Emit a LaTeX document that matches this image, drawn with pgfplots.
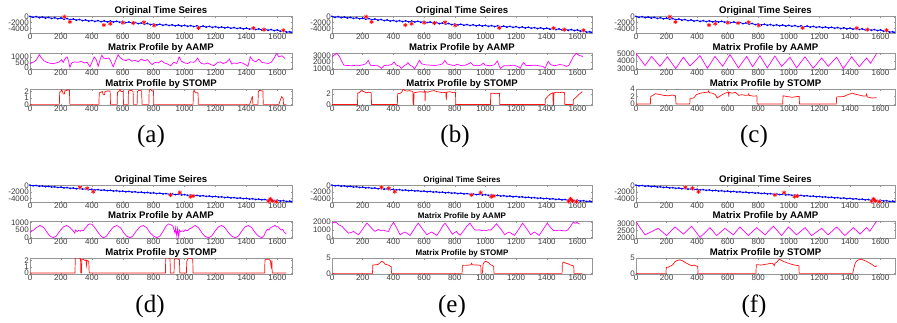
\documentclass[border=0pt]{standalone}
\usepackage{pgfplots}
\pgfplotsset{compat=1.18}
\usepackage{pgfplotstable}
\usepackage{fontspec}
\setmainfont{Liberation Sans}
\newfontfamily\seriffont{Liberation Serif}
\definecolor{axgray}{RGB}{150,150,150}
\definecolor{tickgray}{RGB}{60,60,60}
\definecolor{mag}{RGB}{255,0,255}
\definecolor{myred}{RGB}{255,20,20}
\definecolor{myblue}{RGB}{0,0,255}
\newcommand\tickfont{\fontsize{8}{8}\selectfont}
\newcommand\titlefont{\bfseries\fontsize{9.6}{10}\selectfont}
\newcommand\titlefonte{\bfseries\fontsize{8}{9}\selectfont}
\newcommand\labfont{\seriffont\fontsize{25}{25}\selectfont}

\pgfplotsset{
 every axis title/.style={at={(0.5,1)}, anchor=base, yshift=2.5pt, inner sep=0pt},
 mp/.style={scale only axis, anchor=north west, xmin=0, xmax=1695, xtick={0,200,...,1600},
  axis line style={axgray, line width=0.5pt}, tick style={axgray, line width=0.4pt},
  tick align=inside, major tick length=1.5pt,
  ticklabel style={font=\tickfont, text=tickgray},
  xticklabel style={inner sep=1pt},
  yticklabel style={inner sep=1pt},
  /pgf/number format/assume math mode=true,
  /pgf/number format/1000 sep={},
  scaled y ticks=false,
  title style={font=\titlefont},
 },
 tsl/.style={myblue, line width=0.8pt, mark=*, mark size=0.45pt},
 magl/.style={mag, line width=0.7pt},
 redl/.style={myred, line width=0.7pt},
}

\pgfplotstableread{
x y
0 150
20 -210
40 30
60 -330
80 -90
100 -450
120 -210
140 -570
160 -330
180 -690
200 -450
220 -830
240 -610
260 -990
280 -770
300 -1150
320 -930
340 -1310
360 -1090
380 -1470
400 -1250
420 -1585
440 -1320
460 -1655
480 -1390
500 -1725
520 -1460
540 -1795
560 -1530
580 -1865
600 -1600
620 -1985
640 -1770
660 -2155
680 -1940
700 -2325
720 -2110
740 -2495
760 -2280
780 -2665
800 -2450
820 -2795
840 -2540
860 -2885
880 -2630
900 -2975
920 -2720
940 -3065
960 -2810
980 -3155
1000 -2900
1020 -3245
1040 -2990
1060 -3335
1080 -3080
1100 -3425
1120 -3170
1140 -3515
1160 -3260
1180 -3605
1200 -3350
1220 -3700
1240 -3450
1260 -3800
1280 -3550
1300 -3900
1320 -3650
1340 -4000
1360 -3750
1380 -4100
1400 -3850
1420 -4210
1440 -3970
1460 -4330
1480 -4090
1500 -4450
1520 -4210
1540 -4570
1560 -4330
1580 -4690
1600 -4450
1620 -4906
1640 -4762
1660 -5218
1680 -5074
1690 -5300
}\tsTop

\pgfplotstableread{
x y
222 0
258 -1760
478 -2820
519 -2350
601 -2000
668 -2120
737 -1880
803 -2940
1090 -3760
1445 -3880
1514 -4350
1639 -4590
}\starTop

\pgfplotstableread{
x y
0 80
20 -145
40 -50
60 -275
80 -180
100 -405
120 -310
140 -535
160 -440
180 -665
200 -570
220 -795
240 -700
260 -925
280 -830
300 -1055
320 -960
340 -1185
360 -1090
380 -1315
400 -1220
420 -1435
440 -1330
460 -1545
480 -1440
500 -1655
520 -1550
540 -1765
560 -1660
580 -1875
600 -1770
620 -1985
640 -1880
660 -2095
680 -1990
700 -2205
720 -2100
740 -2315
760 -2210
780 -2425
800 -2320
820 -2535
840 -2430
860 -2645
880 -2540
900 -2755
920 -2650
940 -2865
960 -2760
980 -2975
1000 -2870
1020 -3085
1040 -2980
1060 -3195
1080 -3090
1100 -3305
1120 -3200
1140 -3415
1160 -3310
1180 -3525
1200 -3420
1220 -3640
1240 -3540
1260 -3760
1280 -3660
1300 -3880
1320 -3780
1340 -4000
1360 -3900
1380 -4120
1400 -4020
1420 -4240
1440 -4140
1460 -4360
1480 -4260
1500 -4480
1520 -4380
1540 -4600
1560 -4500
1580 -4720
1600 -4620
1620 -4847
1640 -4753
1660 -4980
1680 -4887
1690 -5000
}\tsBot

\pgfplotstableread{
x y
323 -615
370 -920
409 -1950
909 -2975
969 -2260
1038 -3490
1055 -3280
1542 -4950
1555 -4200
1568 -4820
1594 -5050
}\starBot

\begin{document}
\begin{tikzpicture}[x=1pt,y=1pt]
\path[use as bounding box] (0,0) rectangle (897,-322);

% ================= (a) =================
\begin{axis}[mp, at={(30pt,-16pt)}, width=262pt, height=17pt, ymin=-5500, ymax=250, ytick={-4000,-2000,0}, title={Original Time Seires}]
\addplot[tsl] table {\tsTop};
\addplot[only marks, mark=*, mark size=2pt, red!30, opacity=0.7] table {\starTop};
\addplot[only marks, mark=asterisk, mark size=2pt, red, line width=0.6pt] table {\starTop};
\end{axis}
\begin{axis}[mp, at={(30pt,-53pt)}, width=262pt, height=16pt, ymin=-100, ymax=1350, ytick={0,500,1000}, title={Matrix Profile by AAMP}]
\addplot[magl] coordinates {(0,380) (20,500) (40,700) (60,1200) (75,900) (90,650) (110,500) (130,420) (150,380) (170,450) (190,550) (205,750) (215,500) (230,900) (240,1000) (250,600) (258,50) (270,450) (290,550) (310,500) (330,600) (350,450) (370,500) (388,100) (400,500) (415,1000) (430,700) (441,150) (455,800) (465,1150) (475,900) (490,850) (510,900) (520,700) (538,100) (555,700) (570,1200) (585,900) (600,750) (620,650) (640,800) (660,600) (680,700) (700,550) (720,800) (740,650) (760,750) (775,500) (790,300) (810,500) (830,450) (850,650) (870,450) (890,350) (910,200) (930,500) (950,400) (965,1000) (980,600) (1000,450) (1020,400) (1040,550) (1060,500) (1075,700) (1085,900) (1095,600) (1110,400) (1130,350) (1150,450) (1170,300) (1190,200) (1210,450) (1230,550) (1250,400) (1270,500) (1290,800) (1305,350) (1320,450) (1340,400) (1360,500) (1380,400) (1400,250) (1410,150) (1425,1000) (1440,700) (1460,550) (1480,800) (1500,500) (1520,450) (1540,400) (1560,500) (1580,900) (1595,1320) (1610,1000) (1630,1100) (1650,850)};
\end{axis}
\begin{axis}[mp, at={(30pt,-89pt)}, width=262pt, height=16pt, ymin=-0.1, ymax=2.4, ytick={0,1,2}, title={Matrix Profile by STOMP}]
\addplot[redl] coordinates {(0,0) (190,0) (192,1.9) (200,2.0) (205,2.3) (212,1.9) (215,1.6) (222,1.6) (225,2.1) (240,2.2) (245,2.3) (255,2.2) (258,0)
(446,0) (448,1.8) (460,1.9) (468,2.0) (474,1.5) (482,1.5) (485,2.0) (500,2.1) (518,2.1) (521,0)
(564,0) (566,1.9) (575,2.0) (581,2.4) (590,2.0) (603,2.0) (605,0)
(635,0) (637,2.1) (655,2.2) (667,2.0) (669,0) (693,0) (695,2.0) (705,2.2) (722,2.1) (725,0) (769,0) (771,2.1) (776,2.4) (790,2.1) (799,2.0) (801,0)
(1055,0) (1057,1.9) (1062,2.2) (1070,1.8) (1087,1.8) (1089,0)
(1421,0) (1430,0.6) (1436,1.1) (1440,1.2) (1442,0)
(1475,0) (1477,2.0) (1485,2.2) (1500,2.1) (1507,2.1) (1509,0)
(1610,0) (1620,0.7) (1628,1.2) (1638,0.9) (1640,0) (1658,0)};
\end{axis}

% ================= (b) =================
\begin{axis}[mp, at={(332pt,-16pt)}, width=260pt, height=17pt, ymin=-5500, ymax=250, ytick={-4000,-2000,0}, title={Original Time Seires}]
\addplot[tsl] table {\tsTop};
\addplot[only marks, mark=*, mark size=2pt, red!30, opacity=0.7] table {\starTop};
\addplot[only marks, mark=asterisk, mark size=2pt, red, line width=0.6pt] table {\starTop};
\end{axis}
\begin{axis}[mp, at={(332pt,-53pt)}, width=260pt, height=16pt, ymin=900, ymax=3400, ytick={1000,2000,3000}, title={Matrix Profile by AAMP}]
\addplot[magl] coordinates {(0,2750) (15,3100) (32,3350) (50,2800) (65,2000) (78,1500) (100,1450) (130,1400) (160,1500) (180,1450) (200,1550) (220,1700) (237,2250) (250,1500) (270,1450) (300,1400) (323,1000) (340,1450) (370,1500) (390,1600) (405,2000) (420,1500) (440,1350) (452,1000) (470,1400) (485,1600) (495,1900) (510,1450) (525,1300) (538,900) (555,1600) (570,2250) (585,1700) (610,1550) (640,1500) (670,1450) (700,1550) (720,1700) (736,2250) (750,1700) (780,1500) (800,1450) (814,1650) (840,1450) (870,1500) (890,1700) (904,1900) (920,1500) (950,1400) (970,1500) (986,1800) (1000,1500) (1030,1400) (1060,1550) (1077,2150) (1090,1400) (1098,1000) (1120,1400) (1150,1400) (1184,1500) (1210,1300) (1227,1000) (1240,1600) (1249,1900) (1265,1450) (1300,1450) (1324,1500) (1350,1400) (1375,1300) (1389,1000) (1400,1600) (1410,2100) (1425,1600) (1450,1400) (1485,1600) (1510,1500) (1529,1300) (1545,1500) (1560,2200) (1575,2900) (1593,3350) (1610,3050) (1636,2850)};
\end{axis}
\begin{axis}[mp, at={(332pt,-89pt)}, width=260pt, height=16pt, ymin=-0.1, ymax=2.9, ytick={0,2}, title={Matrix Profile by STOMP}]
\addplot[redl] coordinates {(0,0) (166,0) (168,2.1) (180,2.3) (190,2.6) (200,2.5) (215,2.3) (225,2.2) (240,2.3) (255,2.2) (258,0)
(426,0) (428,2.0) (445,2.1) (455,2.3) (463,2.9) (475,2.6) (490,2.5) (505,2.6) (517,2.5) (527,2.4) (529,0) (533,0) (535,2.2) (555,2.3) (575,2.4) (595,2.3) (605,2.5) (607,0.6) (609,2.4) (625,2.3) (645,2.5) (665,2.6) (685,2.4) (705,2.3) (725,2.2) (742,2.3) (745,0.8) (748,2.3) (770,2.4) (790,2.2) (805,2.3) (807,0)
(1033,0) (1035,2.1) (1050,2.1) (1070,2.0) (1092,2.1) (1094,0)
(1389,0) (1391,1.0) (1400,1.3) (1410,1.6) (1425,2.0) (1440,2.2) (1442,0) (1445,0) (1447,2.2) (1465,2.3) (1480,2.2) (1500,2.3) (1516,2.2) (1518,0)
(1572,0) (1574,0.9) (1585,1.2) (1600,1.6) (1615,2.0) (1632,2.4)};
\end{axis}

% ================= (c) =================
\begin{axis}[mp, at={(636pt,-16pt)}, width=259pt, height=17pt, ymin=-5500, ymax=250, ytick={-4000,-2000,0}, title={Original Time Seires}]
\addplot[tsl] table {\tsTop};
\addplot[only marks, mark=*, mark size=2pt, red!30, opacity=0.7] table {\starTop};
\addplot[only marks, mark=asterisk, mark size=2pt, red, line width=0.6pt] table {\starTop};
\end{axis}
\begin{axis}[mp, at={(636pt,-53pt)}, width=259pt, height=16pt, ymin=2950, ymax=5050, ytick={3000,4000,5000}, title={Matrix Profile by AAMP}]
\addplot[magl] coordinates {(0,5000) (59,3400) (102,4600) (157,3300) (205,4550) (260,3000) (310,4500) (353,3350) (419,4700) (467,3050) (517,4600) (567,3300) (615,4850) (670,3100) (724,4600) (763,3250) (811,4700) (859,3100) (909,4650) (953,3300) (1008,4500) (1051,3100) (1106,4550) (1160,3050) (1215,4400) (1258,3300) (1313,4500) (1357,3000) (1411,4550) (1461,3250) (1509,4400) (1535,3700) (1575,5000)};
\end{axis}
\begin{axis}[mp, at={(636pt,-89pt)}, width=259pt, height=16pt, ymin=-0.25, ymax=4, ytick={0,2,4}, title={Matrix Profile by STOMP}]
\addplot[redl] coordinates {(0,0) (94,0) (96,2.0) (110,2.3) (127,2.75) (160,2.5) (181,2.3) (214,2.2) (236,2.4) (258,2.2) (262,0)
(352,0) (354,1.5) (378,1.6) (395,2.5) (422,2.9) (454,3.1) (472,3.2) (476,3.5) (480,3.0) (498,2.9) (520,2.5) (531,1.6) (542,1.9) (564,2.5) (585,2.9) (605,3.2) (607,2.0) (609,3.1) (629,2.9) (651,3.1) (673,2.3) (694,2.5) (716,2.3) (736,2.4) (738,2.7) (740,2.3) (771,2.1) (791,2.2) (793,0)
(960,0) (962,2.2) (989,2.0) (1022,1.8) (1054,2.0) (1068,2.0) (1070,0)
(1311,0) (1313,1.9) (1360,2.0) (1386,2.5) (1415,2.9) (1437,2.6) (1470,2.3) (1491,2.1) (1507,2.2) (1509,2.6) (1513,1.9) (1546,1.6) (1575,1.7)};
\end{axis}

% ================= (d) =================
\begin{axis}[mp, at={(30pt,-185pt)}, width=262pt, height=17pt, ymin=-5150, ymax=100, ytick={-4000,-2000,0}, title={Original Time Seires}]
\addplot[tsl] table {\tsBot};
\addplot[only marks, mark=*, mark size=2pt, red!30, opacity=0.7] table {\starBot};
\addplot[only marks, mark=asterisk, mark size=2pt, red, line width=0.6pt] table {\starBot};
\end{axis}
\begin{axis}[mp, at={(30pt,-221pt)}, width=262pt, height=17pt, ymin=-20, ymax=1090, ytick={0,500,1000}, title={Matrix Profile by AAMP}]
\addplot[magl] coordinates {(0,350) (20,480) (40,650) (65,800) (90,650) (110,350) (130,100) (151,0) (170,100) (190,400) (215,700) (237,800) (260,650) (281,420) (290,300) (295,500) (305,400) (315,480) (325,420) (335,500) (345,450) (355,600) (365,700) (375,850) (388,900) (400,880) (420,650) (440,350) (460,100) (475,0) (495,100) (515,400) (540,700) (561,800) (585,650) (605,350) (625,100) (647,0) (665,100) (685,400) (710,700) (733,800) (755,650) (775,350) (800,100) (820,0) (840,100) (860,400) (880,750) (895,900) (910,850) (925,750) (938,300) (942,650) (950,100) (955,600) (962,50) (967,500) (975,400) (985,450) (995,400) (1005,520) (1015,450) (1025,500) (1035,600) (1046,650) (1068,800) (1090,650) (1110,350) (1130,100) (1154,0) (1175,100) (1195,400) (1218,700) (1240,800) (1262,650) (1282,350) (1305,100) (1327,0) (1348,100) (1368,400) (1390,700) (1413,800) (1435,650) (1455,350) (1478,100) (1500,0) (1515,150) (1525,400) (1535,550) (1545,500) (1555,650) (1565,700) (1575,750) (1585,800) (1595,700) (1605,720) (1615,600) (1625,500) (1635,550) (1645,350) (1658,250)};
\end{axis}
\begin{axis}[mp, at={(30pt,-258pt)}, width=262pt, height=16pt, ymin=-0.15, ymax=2.4, ytick={0,1,2}, title={Matrix Profile by STOMP}]
\addplot[redl] coordinates {(0,0) (291,0) (293,2.4) (300,2.5) (315,2.4) (327,2.3) (329,0) (333,0) (335,2.2) (345,2.2) (355,2.0) (362,2.1) (366,1.2) (369,2.0) (380,1.9) (383,0)
(876,0) (878,2.3) (885,2.5) (895,2.4) (906,2.3) (908,0) (932,0) (934,2.2) (945,2.3) (960,2.2) (967,2.1) (969,0) (1012,0) (1014,1.8) (1020,2.2) (1030,2.4) (1045,2.3) (1053,2.2) (1055,0)
(1518,0) (1520,2.1) (1530,2.2) (1545,2.2) (1555,2.0) (1560,1.0) (1565,2.0) (1567,0) (1658,0)};
\end{axis}

% ================= (e) =================
\begin{axis}[mp, at={(332pt,-185pt)}, width=260pt, height=17pt, ymin=-5150, ymax=100, ytick={-4000,-2000,0}, title={Original Time Seires}, title style={font=\titlefonte}]
\addplot[tsl] table {\tsBot};
\addplot[only marks, mark=*, mark size=2pt, red!30, opacity=0.7] table {\starBot};
\addplot[only marks, mark=asterisk, mark size=2pt, red, line width=0.6pt] table {\starBot};
\end{axis}
\begin{axis}[mp, at={(332pt,-221pt)}, width=260pt, height=17pt, ymin=-80, ymax=2150, ytick={0,1000,2000}, title={Matrix Profile by AAMP}, title style={font=\titlefonte}]
\addplot[magl] coordinates {(0,1850) (12,1950) (22,2000) (35,1850) (43,1650) (65,1450) (85,1000) (108,560) (125,650) (141,780) (157,550) (173,350) (190,800) (210,1400) (228,1870) (250,1400) (270,950) (282,800) (295,950) (303,1050) (315,900) (330,950) (347,880) (360,800) (368,780) (385,1500) (401,1960) (420,1300) (444,350) (460,550) (477,700) (492,500) (509,260) (530,900) (548,1500) (563,1870) (590,1100) (618,350) (635,550) (650,700) (665,500) (683,260) (705,900) (722,1500) (737,1870) (760,1200) (785,400) (800,650) (812,780) (822,500) (835,280) (855,800) (880,1500) (900,1870) (915,1400) (930,1000) (945,950) (960,1000) (975,900) (990,950) (1005,900) (1020,1000) (1035,950) (1050,1300) (1073,1780) (1100,1100) (1126,350) (1140,550) (1155,700) (1170,500) (1190,260) (1215,1000) (1243,1870) (1270,1100) (1296,350) (1310,600) (1320,700) (1335,500) (1350,260) (1375,1000) (1403,1870) (1425,1300) (1445,900) (1460,880) (1480,950) (1500,900) (1520,850) (1535,950) (1550,1300) (1565,1800) (1575,2000) (1585,1850) (1595,1950) (1615,1750)};
\end{axis}
\begin{axis}[mp, at={(332pt,-258pt)}, width=260pt, height=16pt, ymin=-0.2, ymax=5, ytick={0,5}, title={Matrix Profile by STOMP}, title style={font=\titlefonte}]
\addplot[redl] coordinates {(0,0) (264,0) (266,2.7) (285,2.8) (300,2.9) (310,3.3) (322,3.9) (335,3.7) (345,3.0) (360,2.8) (372,2.6) (380,2.3) (386,2.2) (388,0)
(848,0) (850,2.6) (870,2.6) (890,2.7) (905,2.7) (910,3.3) (915,2.8) (935,2.7) (955,2.7) (970,2.6) (972,0) (980,0) (985,3.0) (995,3.8) (1005,3.9) (1020,3.5) (1035,2.8) (1048,2.5) (1054,2.3) (1056,0)
(1500,0) (1502,3.3) (1510,3.7) (1525,3.3) (1540,3.1) (1555,2.7) (1570,2.5) (1576,2.4) (1578,0) (1632,0)};
\end{axis}

% ================= (f) =================
\begin{axis}[mp, at={(636pt,-185pt)}, width=259pt, height=17pt, ymin=-5150, ymax=100, ytick={-4000,-2000,0}, title={Original Time Seires}]
\addplot[tsl] table {\tsBot};
\addplot[only marks, mark=*, mark size=2pt, red!30, opacity=0.7] table {\starBot};
\addplot[only marks, mark=asterisk, mark size=2pt, red, line width=0.6pt] table {\starBot};
\end{axis}
\begin{axis}[mp, at={(636pt,-221pt)}, width=259pt, height=17pt, ymin=1980, ymax=3160, ytick={2000,2500,3000}, title={Matrix Profile by AAMP}]
\addplot[magl] coordinates {(0,3100) (59,2200) (146,2650) (200,2150) (255,2750) (310,2250) (364,2800) (419,2020) (484,2700) (528,2150) (582,2650) (637,2200) (680,2750) (735,2150) (790,2700) (844,2200) (899,2800) (953,2150) (997,2750) (1051,2200) (1106,2700) (1149,2150) (1215,2650) (1258,2200) (1313,2750) (1367,2150) (1422,2700) (1466,2250) (1509,2700) (1530,2450) (1575,3160)};
\end{axis}
\begin{axis}[mp, at={(636pt,-258pt)}, width=259pt, height=16pt, ymin=-0.2, ymax=5, ytick={0,5}, title={Matrix Profile by STOMP}]
\addplot[redl] coordinates {(0,0) (196,0) (198,1.9) (210,2.0) (225,2.4) (240,2.8) (255,3.8) (270,4.2) (288,4.4) (305,4.1) (320,3.6) (335,3.2) (350,2.8) (364,2.5) (380,2.7) (395,2.4) (404,2.3) (406,0)
(785,0) (787,2.8) (800,2.8) (822,2.7) (840,2.9) (855,3.0) (875,3.2) (888,3.3) (900,3.0) (905,2.5) (910,3.3) (920,3.6) (938,4.6) (950,4.3) (964,3.9) (980,3.6) (997,3.3) (1015,3.0) (1030,2.8) (1050,2.6) (1066,2.5) (1068,0)
(1418,0) (1425,1.5) (1432,3.0) (1440,3.8) (1455,4.4) (1475,4.6) (1495,4.2) (1510,3.9) (1530,3.3) (1545,2.9) (1555,2.5) (1565,2.2) (1572,2.4) (1578,2.3)};
\end{axis}

% panel labels
\node[font=\labfont] at (151,-136) {(a)};
\node[font=\labfont] at (455,-136) {(b)};
\node[font=\labfont] at (754,-136) {(c)};
\node[font=\labfont] at (150,-306) {(d)};
\node[font=\labfont] at (452,-306) {(e)};
\node[font=\labfont] at (754,-306) {(f)};
\end{tikzpicture}
\end{document}
